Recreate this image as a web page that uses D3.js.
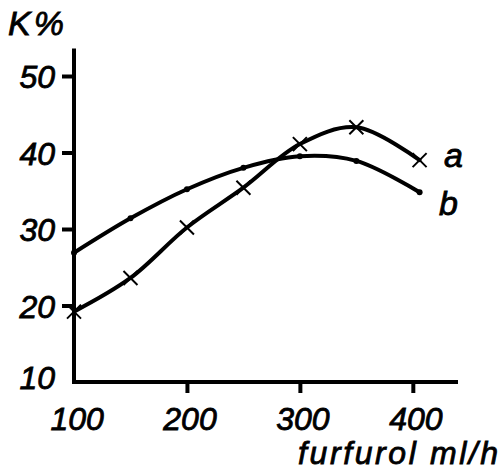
<!DOCTYPE html>
<html>
<head>
<meta charset="utf-8">
<script src="https://cdn.jsdelivr.net/npm/d3@7"></script>
<style>
  body { margin: 0; background: #fff; }
  text { font-family: "Liberation Sans", Arial, sans-serif; font-style: italic; fill: #000;
         stroke: #000; stroke-width: 0.8px; }
</style>
</head>
<body>
<div id="chart"></div>
<script>
// data
let furfurol = [100, 150, 200, 250, 300, 350, 406];
let series_a = [19.2, 23.6, 30.2, 35.4, 41.1, 43.3, 39.0];   // crosses
let series_b = [26.9, 31.4, 35.2, 38.0, 39.5, 38.9, 34.8];   // dots
let x_ticks = [100, 200, 300, 400];
let y_ticks = [10, 20, 30, 40, 50];

let width = 501, height = 476;
let svg = d3.select("#chart").append("svg")
  .attr("width", width).attr("height", height);

let x = d3.scaleLinear().domain([100, 440]).range([74, 458]);
let y = d3.scaleLinear().domain([10, 50]).range([382, 76]);

// axes
let yAxis = svg.append("g").attr("transform", "translate(74,0)")
  .call(d3.axisLeft(y).tickValues(y_ticks).tickSize(12).tickSizeOuter(0).tickPadding(7));
yAxis.select(".domain").remove();
yAxis.selectAll(".tick line").attr("stroke-width", 4)
  .attr("x2", d => d === 10 ? 0 : -12);
yAxis.selectAll(".tick text").style("font-size", "32px")
  .attr("dy", (d) => d === 10 ? "0.2em" : "0.36em");

let xAxis = svg.append("g").attr("transform", "translate(0,382)")
  .call(d3.axisBottom(x).tickValues(x_ticks).tickSize(11).tickSizeOuter(0).tickPadding(14));
xAxis.select(".domain").remove();
xAxis.selectAll(".tick line").attr("stroke-width", 4)
  .attr("y2", d => d === 100 ? 0 : 11);
xAxis.selectAll(".tick text").style("font-size", "32px").attr("dx", "0.08em");

svg.append("line").attr("x1", 74).attr("x2", 74)
  .attr("y1", y(53.6)).attr("y2", 384)
  .attr("stroke", "#000").attr("stroke-width", 4);
svg.append("line").attr("x1", 72).attr("x2", x(440))
  .attr("y1", 382).attr("y2", 382)
  .attr("stroke", "#000").attr("stroke-width", 4);

// curves
let line = d3.line().curve(d3.curveCatmullRom.alpha(0.5))
  .x(d => x(d[0])).y(d => y(d[1]));
let data_a = furfurol.map((f, i) => [f, series_a[i]]);
let data_b = furfurol.map((f, i) => [f, series_b[i]]);

svg.append("path").datum(data_a).attr("d", line)
  .attr("fill", "none").attr("stroke", "#000").attr("stroke-width", 4).attr("stroke-linecap", "round");
svg.append("path").datum(data_b).attr("d", line)
  .attr("fill", "none").attr("stroke", "#000").attr("stroke-width", 4).attr("stroke-linecap", "round");

// markers
let s = 7;
svg.selectAll(".cross").data(data_a).enter().append("path")
  .attr("d", d => {
    let cx = x(d[0]), cy = y(d[1]);
    return `M${cx - s},${cy - s}L${cx + s},${cy + s}M${cx + s},${cy - s}L${cx - s},${cy + s}`;
  })
  .attr("stroke", "#000").attr("stroke-width", 2);
svg.selectAll(".dot").data(data_b).enter().append("circle")
  .attr("cx", d => x(d[0])).attr("cy", d => y(d[1])).attr("r", 3).attr("fill", "#000");

// labels
svg.append("text").attr("x", 8).attr("y", 35).style("font-size", "34px")
  .style("letter-spacing", "3px").text("K%");
svg.append("text").attr("x", 444).attr("y", 167).style("font-size", "34px").text("a");
svg.append("text").attr("x", 439).attr("y", 215).style("font-size", "34px").text("b");
svg.append("text").attr("x", 298).attr("y", 464).style("font-size", "32px")
  .style("letter-spacing", "2.6px").text("furfurol ml/h");
</script>
</body>
</html>
